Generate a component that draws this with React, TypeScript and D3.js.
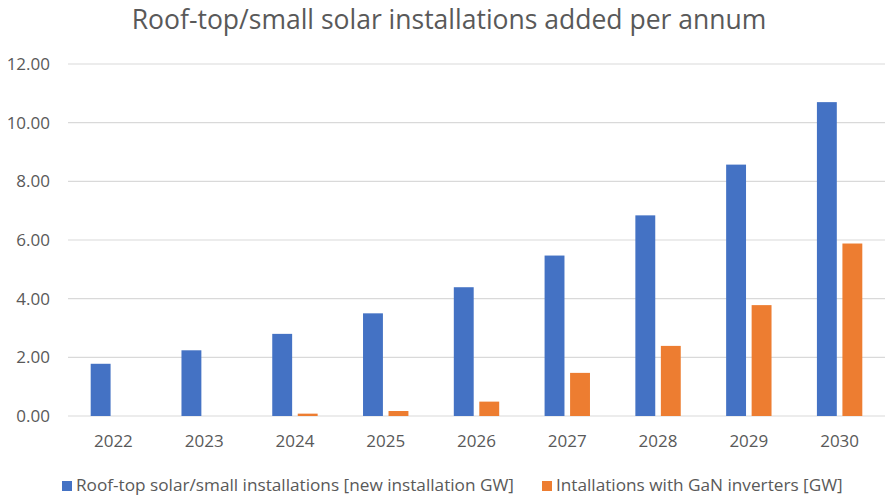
import { useEffect, useRef } from 'react'
import * as d3 from 'd3'

const years = ['2022', '2023', '2024', '2025', '2026', '2027', '2028', '2029', '2030']
const rooftop = [1.78, 2.24, 2.8, 3.5, 4.39, 5.47, 6.84, 8.57, 10.7]
const gan = [0, 0, 0.08, 0.17, 0.49, 1.47, 2.39, 3.78, 5.88]
const seriesNames = [
  'Roof-top solar/small installations [new installation GW]',
  'Intallations with GaN inverters [GW]'
]
const yTicks = [0, 2, 4, 6, 8, 10, 12]

const colors = ['#4472C4', '#ED7D31']
const font = 'Open Sans, sans-serif'

export default function App() {
  const svgRef = useRef<SVGSVGElement>(null)

  useEffect(() => {
    if (!svgRef.current) return
    const width = 895
    const height = 500
    const margin = { top: 64, right: 10, bottom: 84, left: 68 }

    const svg = d3.select(svgRef.current)
    svg.selectAll('*').remove()
    svg.attr('width', width).attr('height', height)

    svg.append('rect').attr('width', width).attr('height', height).attr('fill', '#fff')

    // title
    svg.append('text')
      .attr('x', 449)
      .attr('y', 29)
      .attr('text-anchor', 'middle')
      .attr('font-family', font)
      .attr('font-size', 26.5)
      .attr('fill', '#595959')
      .text('Roof-top/small solar installations added per annum')

    const x0 = d3.scaleBand<string>()
      .domain(years)
      .range([margin.left, width - margin.right])
      .paddingInner(0.5)
      .paddingOuter(0.25)

    const x1 = d3.scaleBand<number>()
      .domain([0, 1])
      .range([0, x0.bandwidth()])
      .paddingInner(0.22)

    const y = d3.scaleLinear()
      .domain([0, 12])
      .range([height - margin.bottom, margin.top])

    // gridlines
    svg.append('g')
      .selectAll('line')
      .data(yTicks)
      .enter()
      .append('line')
      .attr('x1', margin.left)
      .attr('x2', width - margin.right)
      .attr('y1', (d: number) => y(d))
      .attr('y2', (d: number) => y(d))
      .attr('stroke', '#d9d9d9')
      .attr('stroke-width', 1.2)

    // y labels
    svg.append('g')
      .selectAll('text')
      .data(yTicks)
      .enter()
      .append('text')
      .attr('x', 50)
      .attr('y', (d: number) => y(d))
      .attr('dy', '0.35em')
      .attr('text-anchor', 'end')
      .attr('font-family', font)
      .attr('font-size', 17)
      .attr('fill', '#595959')
      .text((d: number) => d.toFixed(2))

    // bars
    const series = [rooftop, gan]
    series.forEach((vals, si) => {
      svg.append('g')
        .selectAll('rect')
        .data(vals)
        .enter()
        .append('rect')
        .attr('x', (_d: number, i: number) => (x0(years[i]) ?? 0) + (x1(si) ?? 0))
        .attr('width', x1.bandwidth())
        .attr('y', (d: number) => y(d))
        .attr('height', (d: number) => y(0) - y(d))
        .attr('fill', colors[si])
    })

    // x labels
    svg.append('g')
      .selectAll('text')
      .data(years)
      .enter()
      .append('text')
      .attr('x', (d: string) => (x0(d) ?? 0) + x0.bandwidth() / 2)
      .attr('y', 447)
      .attr('text-anchor', 'middle')
      .attr('font-family', font)
      .attr('font-size', 17)
      .attr('fill', '#595959')
      .text((d: string) => d)

    // legend
    const legendX = [62, 542]
    seriesNames.forEach((name, i) => {
      svg.append('rect')
        .attr('x', legendX[i])
        .attr('y', 481)
        .attr('width', 10)
        .attr('height', 10)
        .attr('fill', colors[i])
      svg.append('text')
        .attr('x', legendX[i] + 14)
        .attr('y', 491)
        .attr('font-family', font)
        .attr('font-size', 17.2)
        .attr('fill', '#595959')
        .text(name)
    })
  }, [])

  return (
    <div style={{ margin: -8 }}>
      <svg ref={svgRef} />
    </div>
  )
}
